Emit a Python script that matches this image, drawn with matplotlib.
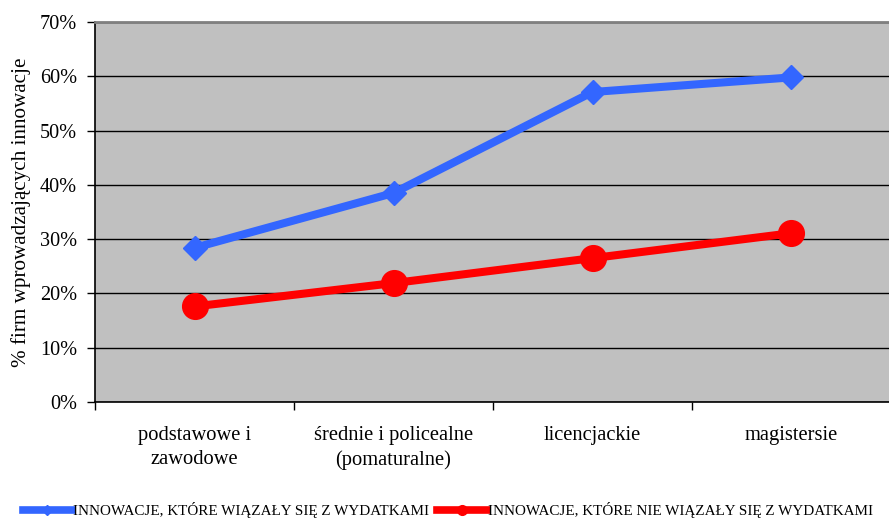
import matplotlib.pyplot as plt
from matplotlib.lines import Line2D

plt.rcParams['font.family'] = ['Liberation Serif', 'DejaVu Serif']

# wykształcenie właściciela / kadry
kategorie = ['podstawowe i\nzawodowe', 'średnie i policealne\n(pomaturalne)',
             'licencjackie', 'magistersie']
z_wydatkami = [28.4, 38.5, 57.1, 59.8]
bez_wydatkow = [17.6, 21.9, 26.5, 31.1]
etykiety = ['INNOWACJE, KTÓRE WIĄZAŁY SIĘ Z WYDATKAMI',
            'INNOWACJE, KTÓRE NIE WIĄZAŁY SIĘ Z WYDATKAMI']

niebieski = '#3366FF'
czerwony = '#FF0000'

fig = plt.figure(figsize=(8.89, 5.23), dpi=100)
ax = fig.add_axes([95 / 889, 1 - 402 / 523, 796 / 889, 380 / 523])
ax.set_facecolor('#C0C0C0')

x = range(len(kategorie))
ax.plot(x, z_wydatkami, color=niebieski, lw=5.8, marker='D', ms=12,
        zorder=3, clip_on=False)
ax.plot(x, bez_wydatkow, color=czerwony, lw=5.8, marker='o', ms=18.5,
        zorder=3, clip_on=False)

ax.set_ylim(0, 70)
ax.set_xlim(-0.5, len(kategorie) - 0.5)
ax.set_yticks(range(0, 71, 10))
ax.set_yticklabels([f'{v}%' for v in range(0, 71, 10)], fontsize=14.6)
ax.yaxis.grid(True, color='black', lw=1)
ax.set_axisbelow(True)

# granice kategorii jako znaczniki, podpisy pośrodku
ax.set_xticks([i - 0.5 for i in range(len(kategorie) + 1)])
ax.set_xticklabels([])
ax.set_xticks(list(x), minor=True)
ax.set_xticklabels(kategorie, minor=True, fontsize=14.8, linespacing=1.35)
ax.tick_params(axis='x', which='minor', length=0, pad=17)
ax.tick_params(axis='both', which='major', length=6, width=1, direction='out')
ax.tick_params(axis='y', pad=7)

for s in ['left', 'bottom']:
    ax.spines[s].set_color('black')
    ax.spines[s].set_linewidth(1.2)
ax.spines['top'].set_color('#808080')
ax.spines['top'].set_linewidth(2)
ax.spines['right'].set_visible(False)

ax.set_ylabel('% firm wprowadzających innowacje', fontsize=15.2, labelpad=6)

uchwyty = [Line2D([], [], color=niebieski, lw=5.5, marker='D', ms=5),
           Line2D([], [], color=czerwony, lw=5.5, marker='o', ms=7)]
fig.legend(uchwyty, etykiety, loc='lower left', bbox_to_anchor=(0.01, -0.017),
           ncol=2, frameon=False, fontsize=10.9, handlelength=3.3,
           handletextpad=0.05, columnspacing=0.5)

fig.savefig('out.png', dpi=100)
